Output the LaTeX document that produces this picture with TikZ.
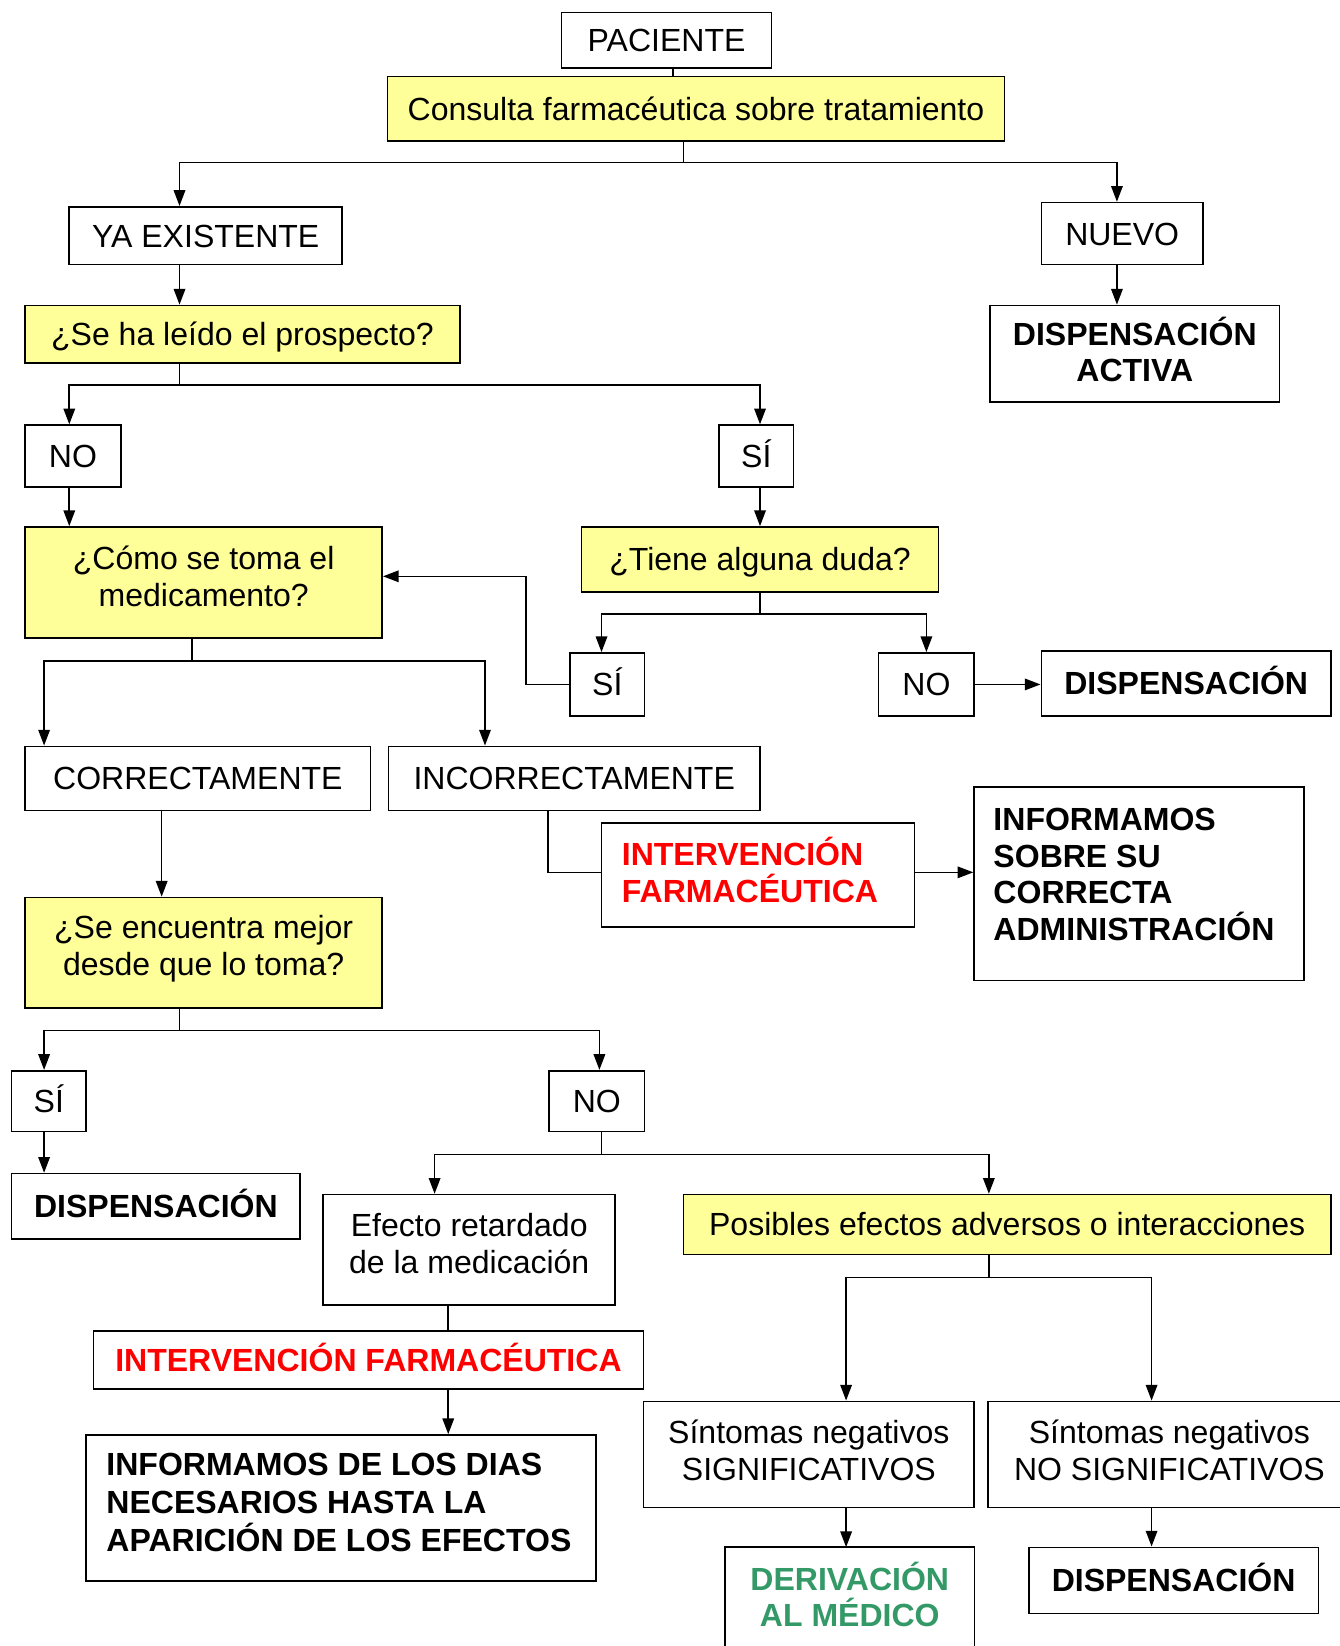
\documentclass[tikz,border=0pt]{standalone}
\usepackage{fontspec}
\setmainfont{Liberation Sans}
\usetikzlibrary{arrows.meta}
\definecolor{yel}{HTML}{FFFF99}
\definecolor{rojo}{HTML}{FF0000}
\definecolor{verde}{HTML}{339966}
\newcommand\dfs{\fontsize{30.5pt}{35pt}\selectfont}
\begin{document}
\begin{tikzpicture}[x=1pt,y=-1pt,
 box/.style={draw, line width=1.6pt, inner sep=0pt, font=\dfs, text height=24.5pt, text depth=2.7pt},
 ybox/.style={box, fill=yel},
 bbox/.style={box, font=\dfs\bfseries},
 txt/.style={inner sep=0pt, font=\dfs, align=center},
 btxt/.style={txt, font=\dfs\bfseries},
 ltxt/.style={btxt, align=left, anchor=west},
 con/.style={line width=1.5pt},
 arr/.style={con, -{Triangle[length=15pt,width=11pt]}},
]
\useasboundingbox (0,0) rectangle (1276,1568);
% nodes
\node[box, minimum width=200pt, minimum height=53pt] (pac) at (635,38.5) {PACIENTE};
\node[ybox, minimum width=588pt, minimum height=61pt] (cons) at (663,103.5) {Consulta farmacéutica sobre tratamiento};
\node[box, minimum width=260pt, minimum height=55pt] (ya) at (196,224.5) {YA EXISTENTE};
\node[box, minimum width=154pt, minimum height=59pt] (nuevo) at (1069,222.5) {NUEVO};
\node[box, minimum width=276pt, minimum height=92pt] (dact) at (1081,337) {};
\node[btxt] (dact-t) at ([yshift=4pt]dact.center) {DISPENSACIÓN\\ACTIVA};
\node[ybox, minimum width=414pt, minimum height=55pt] (pros) at (231,318.5) {¿Se ha leído el prospecto?};
\node[box, minimum width=91pt, minimum height=59pt] (no1) at (69.5,434.5) {NO};
\node[box, minimum width=71pt, minimum height=59pt] (si1) at (720.5,434.5) {SÍ};
\node[ybox, minimum width=340pt, minimum height=106pt] (como) at (194,555) {};
\node[txt] (como-t) at ([yshift=6pt]como.center) {¿Cómo se toma el\\medicamento?};
\node[ybox, minimum width=340pt, minimum height=62pt] (duda) at (724,533) {¿Tiene alguna duda?};
\node[box, minimum width=71pt, minimum height=60pt] (si2) at (578.5,652) {SÍ};
\node[box, minimum width=91pt, minimum height=60pt] (no2) at (882.5,652) {NO};
\node[bbox, minimum width=276pt, minimum height=62pt] (disp1) at (1130,651) {DISPENSACIÓN};
\node[box, minimum width=329pt, minimum height=61pt] (corr) at (188.5,741.5) {CORRECTAMENTE};
\node[box, minimum width=354pt, minimum height=61pt] (inco) at (547,741.5) {INCORRECTAMENTE};
\node[box, minimum width=298pt, minimum height=99pt] (int1) at (722,833.5) {};
\node[ltxt, text=rojo] (int1-t) at ([xshift=20pt, yshift=5pt]int1.west) {INTERVENCIÓN\\FARMACÉUTICA};
\node[box, minimum width=314pt, minimum height=184pt] (inf1) at (1085,842) {};
\node[ltxt] (inf1-t) at ([xshift=19pt, yshift=9pt]inf1.west) {INFORMAMOS\\SOBRE SU\\CORRECTA\\ADMINISTRACIÓN};
\node[ybox, minimum width=340pt, minimum height=105pt] (mej) at (194,907.5) {};
\node[txt] (mej-t) at ([yshift=4pt]mej.center) {¿Se encuentra mejor\\desde que lo toma?};
\node[box, minimum width=71pt, minimum height=58pt] (si3) at (46.5,1049) {SÍ};
\node[box, minimum width=91pt, minimum height=58pt] (no3) at (568.5,1049) {NO};
\node[bbox, minimum width=275pt, minimum height=62pt] (disp2) at (148.5,1149) {DISPENSACIÓN};
\node[box, minimum width=278pt, minimum height=105pt] (efe) at (447,1190.5) {};
\node[txt] (efe-t) at ([yshift=6pt]efe.center) {Efecto retardado\\de la medicación};
\node[ybox, minimum width=617pt, minimum height=57pt] (pos) at (959.5,1166.5) {Posibles efectos adversos o interacciones};
\node[bbox, text=rojo, minimum width=524pt, minimum height=55pt] (int2) at (351,1295.5) {INTERVENCIÓN FARMACÉUTICA};
\node[box, minimum width=486pt, minimum height=139pt] (inf2) at (325,1436.5) {};
\node[ltxt, font=\fontsize{30.5pt}{36pt}\selectfont\bfseries] (inf2-t) at ([xshift=20pt, yshift=5pt]inf2.west) {INFORMAMOS DE LOS DIAS\\NECESARIOS HASTA LA\\APARICIÓN DE LOS EFECTOS};
\node[box, minimum width=315pt, minimum height=101pt] (sig) at (770.5,1385.5) {};
\node[txt] (sig-t) at ([yshift=4pt]sig.center) {Síntomas negativos\\SIGNIFICATIVOS};
\node[box, minimum width=346pt, minimum height=101pt] (nsig) at (1114,1385.5) {};
\node[txt] (nsig-t) at ([yshift=4pt]nsig.center) {Síntomas negativos\\NO SIGNIFICATIVOS};
\node[draw=none, inner sep=0pt, minimum width=237pt, minimum height=92pt] (der) at (809.5,1520) {};
\node[btxt, text=verde] (der-t) at ([yshift=1pt]der.center) {DERIVACIÓN\\AL MÉDICO};
\draw[line width=1.6pt] ([yshift=-60pt]der.south west) |- (der.north east) -- ([yshift=-60pt]der.south east);
\node[bbox, minimum width=276pt, minimum height=63pt] (disp3) at (1118,1505.5) {DISPENSACIÓN};
% connectors
\draw[con] ([xshift=6pt]pac.south) -- ([xshift=6pt]pac.south |- cons.north);
\draw[con] ([xshift=-12pt]cons.south) -- ++(0,20) coordinate (j1);
\draw[arr] (j1) -| ([xshift=-25pt]ya.north);
\draw[arr] (j1) -| ([xshift=-5pt]nuevo.north);
\draw[arr] ([xshift=-5pt]nuevo.south) -- ([xshift=-5pt]nuevo.south |- dact.north);
\draw[arr] ([xshift=-25pt]ya.south) -- ([xshift=-25pt]ya.south |- pros.north);
\draw[con] ([xshift=-60pt]pros.south) -- ++(0,20) coordinate (j2);
\draw[arr] (j2) -| ([xshift=-3.5pt]no1.north);
\draw[arr] (j2) -| ([xshift=3.5pt]si1.north);
\draw[arr] ([xshift=-3.5pt]no1.south) -- ([xshift=-3.5pt]no1.south |- como.north);
\draw[arr] ([xshift=3.5pt]si1.south) -- ([xshift=3.5pt]si1.south |- duda.north);
\draw[con] (duda.south) -- ++(0,20) coordinate (j3);
\draw[arr] (j3) -| ([xshift=-5.5pt]si2.north);
\draw[arr] (j3) -| (no2.north);
\draw[arr] (si2.west) -- ++(-41,0) |- ([yshift=6pt]como.east);
\draw[arr] (no2.east) -- (no2.east -| disp1.west);
\draw[con] ([xshift=-11pt]como.south) -- ++(0,21) coordinate (j4);
\draw[arr] (j4) -| ([xshift=-146.5pt]corr.north);
\draw[arr] (j4) -| ([xshift=-85pt]inco.north);
\draw[con] ([xshift=-25pt]inco.south) |- ([yshift=2.5pt]int1.west);
\draw[arr] ([yshift=2.5pt]int1.east) -- ([yshift=2.5pt]int1.east -| inf1.west);
\draw[arr] ([xshift=-34.5pt]corr.south) -- ([xshift=-34.5pt]corr.south |- mej.north);
\draw[con] ([xshift=-23pt]mej.south) -- ++(0,21) coordinate (j5);
\draw[arr] (j5) -| ([xshift=-4.5pt]si3.north);
\draw[arr] (j5) -| ([xshift=2.5pt]no3.north);
\draw[arr] ([xshift=-4.5pt]si3.south) -- ([xshift=-4.5pt]si3.south |- disp2.north);
\draw[con] ([xshift=4.5pt]no3.south) -- ++(0,21) coordinate (j6);
\draw[arr] (j6) -| ([xshift=-33pt]efe.north);
\draw[arr] (j6) -| ([xshift=-17.5pt]pos.north);
\draw[con] ([xshift=-20pt]efe.south) -- ([xshift=-20pt]efe.south |- int2.north);
\draw[arr] ([xshift=76pt]int2.south) -- ([xshift=76pt]int2.south |- inf2.north);
\draw[con] ([xshift=-17.5pt]pos.south) -- ++(0,21) coordinate (j7);
\draw[arr] (j7) -| ([xshift=35.5pt]sig.north);
\draw[arr] (j7) -| ([xshift=-17pt]nsig.north);
\draw[arr] ([xshift=35.5pt]sig.south) -- ([xshift=35.5pt]sig.south |- der.north);
\draw[arr] ([xshift=-17pt]nsig.south) -- ([xshift=-17pt]nsig.south |- disp3.north);
\end{tikzpicture}
\end{document}
